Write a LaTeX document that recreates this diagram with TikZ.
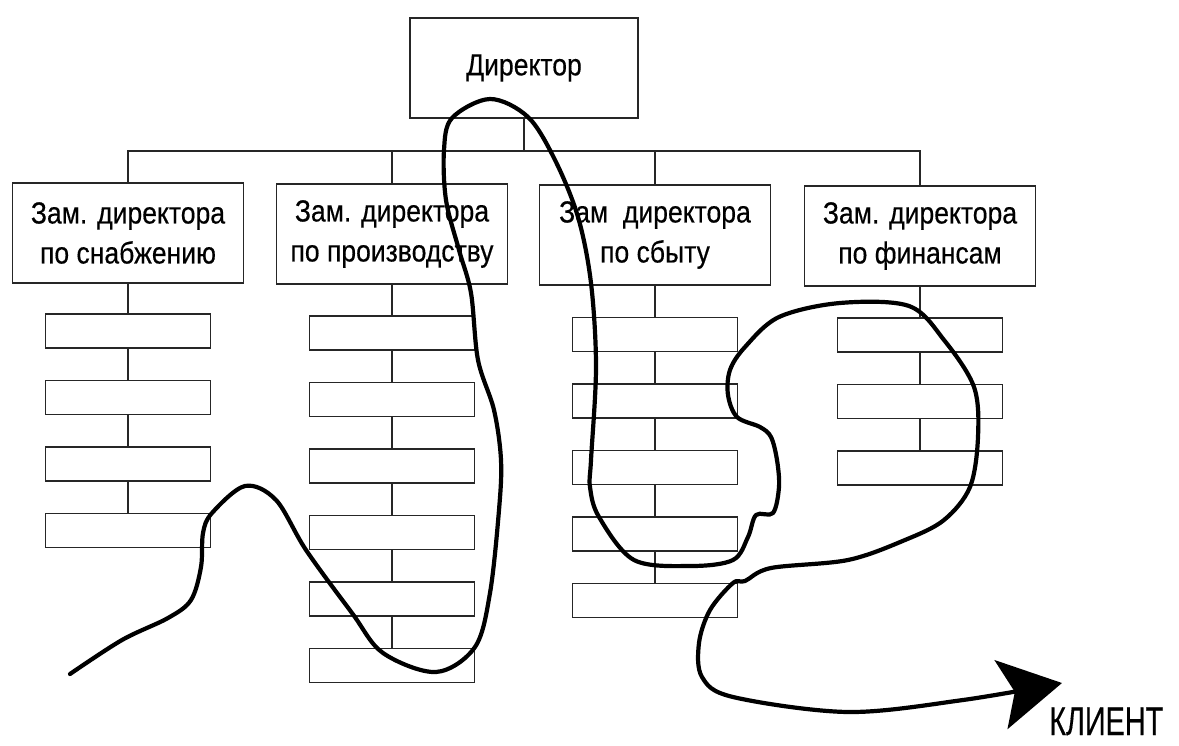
\documentclass[tikz,border=0pt]{standalone}
\usepackage{fontspec}
\newfontfamily\orgfont[FakeStretch=0.87, FakeBold=0.4]{Liberation Sans}
\newfontfamily\clientfont[FakeStretch=0.72, FakeBold=0.3]{Liberation Sans}
\usetikzlibrary{arrows.meta}

\tikzset{
  poste/.style={draw=black!85, line width=1.7pt, minimum width=231pt, minimum height=100pt,
    inner sep=0pt, align=center, font=\orgfont\fontsize{30.5}{40}\selectfont},
  case/.style={draw=black!85, line width=1.7pt, minimum width=165pt, minimum height=34pt, inner sep=0pt},
  lien/.style={draw=black!85, line width=1.5pt},
  trajet/.style={line width=4.2pt, line cap=round, line join=round,
    -{Stealth[length=62pt, width=70pt, inset=14pt]}}
}

\begin{document}
\begin{tikzpicture}[x=1pt, y=-1pt]
  \useasboundingbox (0,0) rectangle (1179,745);
  % Directeur
  \node[poste, minimum width=228pt] (dir) at (524,68) {Директор};
  % Adjoints
  \node[poste] (adj1) at (128,233) {Зам. директора\\по снабжению};
  \node[poste] (adj2) at (392,234) {Зам. директора\\по производству};
  \node[poste] (adj3) at (655,235) {Зам\phantom{.} директора\\по сбыту};
  \node[poste] (adj4) at (920,236) {Зам. директора\\по финансам};
  % Cases des services
  \foreach \c/\x/\dy/\n in {1/128/0/4, 2/392/2/6, 3/655/3.5/5, 4/920/4/3}{
    \foreach \k in {1,...,\n}{
      \node[case] (s\c-\k) at ({\x}, {331+\dy+66.5*(\k-1)}) {};
    }
  }
  % Liaisons
  \coordinate (bus) at (524,151);
  \draw[lien] (dir) -- (bus);
  \draw[lien] (adj1.north) |- (bus) -| (adj4.north);
  \draw[lien] (adj2.north) -- (adj2.north |- bus);
  \draw[lien] (adj3.north) -- (adj3.north |- bus);
  \foreach \c/\n in {1/4, 2/6, 3/5, 4/3}{
    \draw[lien] (adj\c) -- (s\c-1);
    \foreach \k [remember=\k as \p (initially 1)] in {2,...,\n}{
      \draw[lien] (s\c-\p) -- (s\c-\k);
    }
  }
  % Parcours du client
  \draw[trajet] plot[smooth, tension=0.55] coordinates {
    (70,674) (122,640) (168,618) (191,600) (201,567) (203,533) (212,513)
    (245,486) (276,500) (306,550) (352,613) (383,653) (436,672) (475,647)
    (490,593) (499,510) (501,460) (494,410) (478,360) (471,293) (459,250)
    (446,200) (444,150) (452,118) (490,99) (528,117) (555,160) (578,217)
    (591,283) (596,367) (591,460) (590,487) (599,517) (634,560) (691,566)
    (733,560) (748,537) (756,515) (773,513) (779,487) (777,460) (771,437)
    (760,427) (737,417) (728,395) (730,370) (745,347) (779,317) (840,303)
    (909,306) (944,340) (974,387) (978,437) (970,487) (944,520) (905,540)
    (848,560) (771,568) (745,581) (733,583) (710,610) (699,643) (702,677)
    (733,697) (848,712) (963,700) (1062,683)};
  \node[font=\clientfont\fontsize{40}{40}\selectfont, anchor=base west, inner sep=0pt]
    (client) at (1049,735) {КЛИЕНТ};
\end{tikzpicture}
\end{document}
